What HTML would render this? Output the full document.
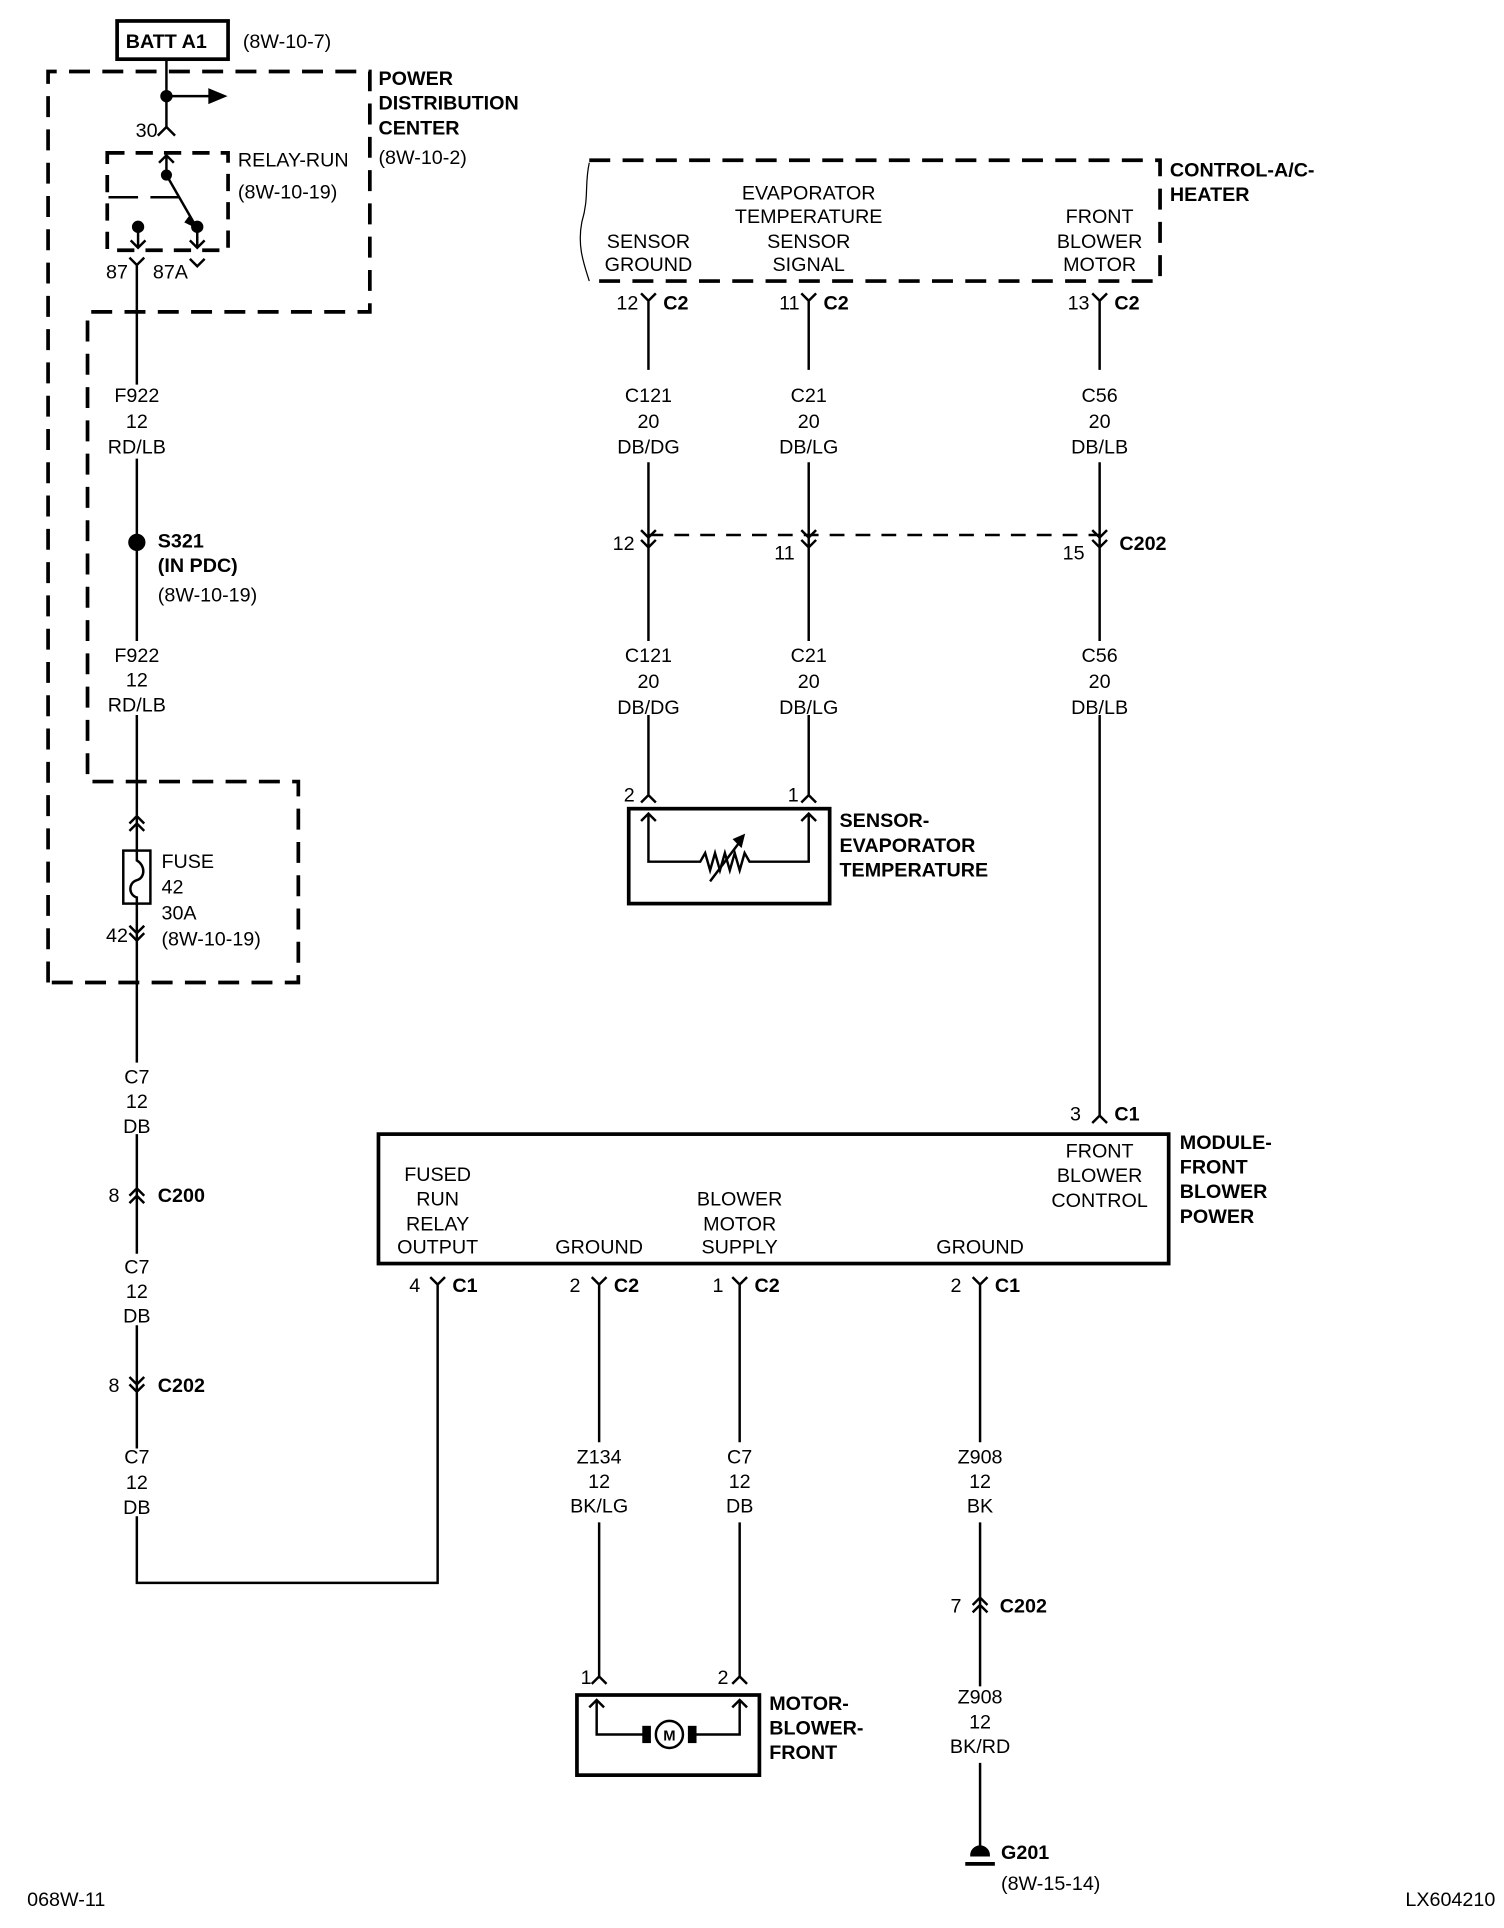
<!DOCTYPE html>
<html><head><meta charset="utf-8"><style>
html,body{margin:0;padding:0;background:#fff;}
svg{display:block;}
text{font-family:"Liberation Sans Narrow","Liberation Sans",sans-serif;font-size:16px;fill:#000;}
.b{font-weight:bold;}
.m{text-anchor:middle;}
</style></head><body>
<svg width="1504" height="1928" viewBox="0 0 1220 1564" preserveAspectRatio="none" xmlns="http://www.w3.org/2000/svg">
<g fill="none" stroke="#000" stroke-width="2">
<rect x="95" y="17" width="90" height="31" stroke-width="3"/>
<path d="M39 797 V58 H300 V253 H71 V634 H242 V797 H39" stroke-width="3" stroke-dasharray="17,10"/>
<path d="M87 124 H185 V203 H87 Z" stroke-width="3" stroke-dasharray="14,9"/>
<path d="M88 160 H112 M122 160 H146"/>
<path d="M135 48 V103 M135 78 H170"/>
<path d="M170 73 L182 78 L170 83 Z" fill="#000"/>
<circle cx="135" cy="78" r="4" fill="#000"/>
<path d="M128 110 L135 103 L142 110"/>
<path d="M135 142 V126 M129 132 L135 126 L141 132"/>
<circle cx="135" cy="142" r="3.5" fill="#000"/>
<path d="M135 142 L158 182"/><path d="M154 176 L159 184 L151 180Z" fill="#000"/>
<circle cx="112" cy="184" r="4" fill="#000"/><circle cx="160" cy="184" r="4" fill="#000"/>
<path d="M112 184 V201 M106 195 L112 201 L118 195 M160 184 V201 M154 195 L160 201 L166 195"/>
<path d="M105 209 L111 215 L117 209 M111 215 V312 M154 210 L160 216 L166 210"/>
<path d="M111 372 V520 M111 580 V690 M111 733 V862"/>
<circle cx="111" cy="440" r="6" fill="#000"/>
<path d="M105 668 L111 662 L117 668 M105 674 L111 668 L117 674"/>
<rect x="100" y="690" width="22" height="43"/>
<path d="M111 690 V698 C118 702 118 712 111 714 C104 716 104 726 111 728 V733"/>
<path d="M105 751 L111 757 L117 751 M105 757 L111 763 L117 757"/>
<path d="M111 920 V1017 M105 970 L111 964 L117 970 M105 976 L111 970 L117 976"/>
<path d="M111 1075 V1175 M105 1117 L111 1123 L117 1117 M105 1123 L111 1129 L117 1123"/>
<path d="M111 1230 V1284 H355 V1042 M349 1036 L355 1042 L361 1036"/>
<path d="M478 130 H941 V228 H478" stroke-width="3" stroke-dasharray="17,10"/>
<path d="M478 132 C474 150 478 160 472 180 C468 200 474 215 478 228" stroke-width="1"/>
<path d="M520 238 L526 244 L532 238 M526 244 V300 M526 375 V520 M526 580 V645 M520 651 L526 645 L532 651"/>
<path d="M650 238 L656 244 L662 238 M656 244 V300 M656 375 V520 M656 580 V645 M650 651 L656 645 L662 651"/>
<path d="M886 238 L892 244 L898 238 M892 244 V300 M892 375 V520 M892 580 V905 M886 911 L892 905 L898 911"/>
<path d="M526 434 H892" stroke-dasharray="12,9"/>
<path d="M520 430 L526 436 L532 430 M520 438 L526 444 L532 438 M650 430 L656 436 L662 430 M650 438 L656 444 L662 438 M886 430 L892 436 L898 430 M886 438 L892 444 L898 438"/>
<rect x="510" y="656" width="163" height="77" stroke-width="3"/>
<path d="M526 660 V699 H568 L572 692 L576 706 L580 692 L584 706 L588 692 L592 706 L596 692 L600 706 L604 692 L608 699 H656 V660 M520 666 L526 660 L532 666 M650 666 L656 660 L662 666"/>
<path d="M576 715 L600 683"/><path d="M596 681 L603 678 L601 686Z" fill="#000"/>
<rect x="307" y="920" width="641" height="105" stroke-width="3"/>
<path d="M480 1036 L486 1042 L492 1036 M486 1042 V1170 M486 1235 V1360 M480 1366 L486 1360 L492 1366"/>
<path d="M594 1036 L600 1042 L606 1036 M600 1042 V1170 M600 1235 V1360 M594 1366 L600 1360 L606 1366"/>
<path d="M789 1036 L795 1042 L801 1036 M795 1042 V1170 M795 1235 V1368 M795 1430 V1505 M789 1302 L795 1296 L801 1302 M789 1308 L795 1302 L801 1308"/>
<rect x="468" y="1375" width="148" height="65" stroke-width="3"/>
<path d="M484 1379 V1407 H524 M562 1407 H600 V1379 M478 1385 L484 1379 L490 1385 M594 1385 L600 1379 L606 1385"/>
<circle cx="543" cy="1407" r="11"/>
<rect x="522" y="1401" width="5" height="12" fill="#000"/><rect x="559" y="1401" width="5" height="12" fill="#000"/>
<path d="M788 1505 A7 7 0 0 1 802 1505 Z" fill="#000"/>
<path d="M783 1512 H807" stroke-width="3"/>
</g>
<text x="543" y="1412" class="m b" style="font-size:12px">M</text>
<text x="102" y="39" class="b">BATT A1</text>
<text x="197" y="39">(8W-10-7)</text>
<text x="307" y="69" class="b">POWER</text><text x="307" y="89" class="b">DISTRIBUTION</text><text x="307" y="109" class="b">CENTER</text><text x="307" y="133">(8W-10-2)</text>
<text x="110" y="111">30</text>
<text x="193" y="135">RELAY-RUN</text><text x="193" y="161">(8W-10-19)</text>
<text x="86" y="226">87</text><text x="124" y="226">87A</text>
<text x="111" y="326" class="m">F922</text><text x="111" y="347" class="m">12</text><text x="111" y="368" class="m">RD/LB</text>
<text x="111" y="537" class="m">F922</text><text x="111" y="557" class="m">12</text><text x="111" y="577" class="m">RD/LB</text>
<text x="111" y="879" class="m">C7</text><text x="111" y="899" class="m">12</text><text x="111" y="919" class="m">DB</text>
<text x="111" y="1033" class="m">C7</text><text x="111" y="1053" class="m">12</text><text x="111" y="1073" class="m">DB</text>
<text x="111" y="1187" class="m">C7</text><text x="111" y="1208" class="m">12</text><text x="111" y="1228" class="m">DB</text>
<text x="128" y="444" class="b">S321</text><text x="128" y="464" class="b">(IN PDC)</text><text x="128" y="488">(8W-10-19)</text>
<text x="131" y="704">FUSE</text><text x="131" y="725">42</text><text x="131" y="746">30A</text><text x="131" y="767">(8W-10-19)</text>
<text x="86" y="764">42</text>
<text x="88" y="975">8</text><text x="128" y="975" class="b">C200</text>
<text x="88" y="1129">8</text><text x="128" y="1129" class="b">C202</text>
<text x="949" y="143" class="b">CONTROL-A/C-</text><text x="949" y="163" class="b">HEATER</text>
<text x="526" y="201" class="m">SENSOR</text><text x="526" y="220" class="m">GROUND</text>
<text x="656" y="162" class="m">EVAPORATOR</text><text x="656" y="181" class="m">TEMPERATURE</text><text x="656" y="201" class="m">SENSOR</text><text x="656" y="220" class="m">SIGNAL</text>
<text x="892" y="181" class="m">FRONT</text><text x="892" y="201" class="m">BLOWER</text><text x="892" y="220" class="m">MOTOR</text>
<text x="500" y="251">12</text><text x="538" y="251" class="b">C2</text>
<text x="632" y="251">11</text><text x="668" y="251" class="b">C2</text>
<text x="866" y="251">13</text><text x="904" y="251" class="b">C2</text>
<text x="526" y="326" class="m">C121</text><text x="526" y="347" class="m">20</text><text x="526" y="368" class="m">DB/DG</text>
<text x="656" y="326" class="m">C21</text><text x="656" y="347" class="m">20</text><text x="656" y="368" class="m">DB/LG</text>
<text x="892" y="326" class="m">C56</text><text x="892" y="347" class="m">20</text><text x="892" y="368" class="m">DB/LB</text>
<text x="497" y="446">12</text><text x="628" y="454">11</text><text x="862" y="454">15</text><text x="908" y="446" class="b">C202</text>
<text x="526" y="537" class="m">C121</text><text x="526" y="558" class="m">20</text><text x="526" y="579" class="m">DB/DG</text>
<text x="656" y="537" class="m">C21</text><text x="656" y="558" class="m">20</text><text x="656" y="579" class="m">DB/LG</text>
<text x="892" y="537" class="m">C56</text><text x="892" y="558" class="m">20</text><text x="892" y="579" class="m">DB/LB</text>
<text x="506" y="650">2</text><text x="639" y="650">1</text>
<text x="681" y="671" class="b">SENSOR-</text><text x="681" y="691" class="b">EVAPORATOR</text><text x="681" y="711" class="b">TEMPERATURE</text>
<text x="868" y="909">3</text><text x="904" y="909" class="b">C1</text>
<text x="957" y="932" class="b">MODULE-</text><text x="957" y="952" class="b">FRONT</text><text x="957" y="972" class="b">BLOWER</text><text x="957" y="992" class="b">POWER</text>
<text x="355" y="958" class="m">FUSED</text><text x="355" y="978" class="m">RUN</text><text x="355" y="998" class="m">RELAY</text><text x="355" y="1017" class="m">OUTPUT</text>
<text x="486" y="1017" class="m">GROUND</text>
<text x="600" y="978" class="m">BLOWER</text><text x="600" y="998" class="m">MOTOR</text><text x="600" y="1017" class="m">SUPPLY</text>
<text x="795" y="1017" class="m">GROUND</text>
<text x="892" y="939" class="m">FRONT</text><text x="892" y="959" class="m">BLOWER</text><text x="892" y="979" class="m">CONTROL</text>
<text x="332" y="1048">4</text><text x="367" y="1048" class="b">C1</text>
<text x="462" y="1048">2</text><text x="498" y="1048" class="b">C2</text>
<text x="578" y="1048">1</text><text x="612" y="1048" class="b">C2</text>
<text x="771" y="1048">2</text><text x="807" y="1048" class="b">C1</text>
<text x="486" y="1187" class="m">Z134</text><text x="486" y="1207" class="m">12</text><text x="486" y="1227" class="m">BK/LG</text>
<text x="600" y="1187" class="m">C7</text><text x="600" y="1207" class="m">12</text><text x="600" y="1227" class="m">DB</text>
<text x="795" y="1187" class="m">Z908</text><text x="795" y="1207" class="m">12</text><text x="795" y="1227" class="m">BK</text>
<text x="771" y="1308">7</text><text x="811" y="1308" class="b">C202</text>
<text x="795" y="1382" class="m">Z908</text><text x="795" y="1402" class="m">12</text><text x="795" y="1422" class="m">BK/RD</text>
<text x="471" y="1366">1</text><text x="582" y="1366">2</text>
<text x="624" y="1387" class="b">MOTOR-</text><text x="624" y="1407" class="b">BLOWER-</text><text x="624" y="1427" class="b">FRONT</text>
<text x="812" y="1508" class="b">G201</text><text x="812" y="1533">(8W-15-14)</text>
<text x="22" y="1546">068W-11</text><text x="1140" y="1546">LX604210</text>
</svg>
</body></html>
